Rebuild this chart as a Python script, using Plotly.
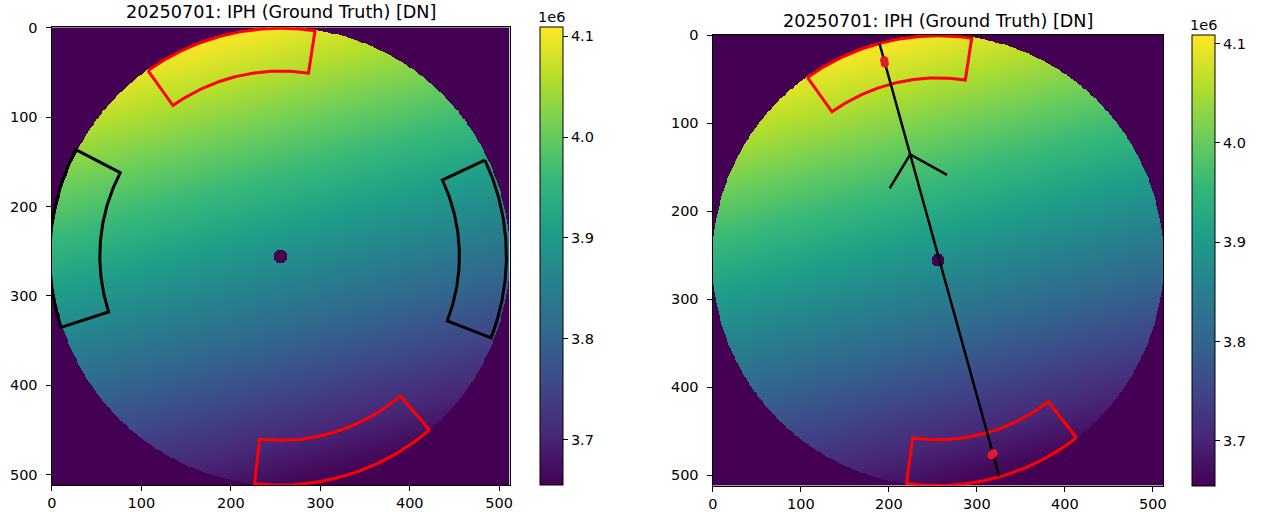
import numpy as np
import plotly.graph_objects as go

# ---------------- data ----------------
IMG_SIZE = 512
DISK_CENTER = (255.5, 255.5)
DISK_RADIUS = 256.0
HOLE_RADIUS = 7.5
VALUE_MAX = 4.109e6          # brightest rim value (top, slightly left)
VALUE_MIN = 3.655e6          # darkest rim value / masked value
PROFILE_START = (189.3, 9.4)   # profile line, high end
PROFILE_END = (325.3, 500.8)   # profile line, low end
ARROW_TIP = (224.2, 135.3)
ARROW_LEFT = (200.9, 173.8)
ARROW_RIGHT = (266.0, 158.7)
DOTS_X = [194.6, 195.4, 316.5, 319.0]
DOTS_Y = [28.5, 32.0, 477.0, 475.0]

CB_TICKS = [3.7e6, 3.8e6, 3.9e6, 4.0e6, 4.1e6]
CB_TICKTEXT = ["3.7", "3.8", "3.9", "4.0", "4.1"]
AX_TICKS = [0, 100, 200, 300, 400, 500]
TITLE = "20250701: IPH (Ground Truth) [DN]"

# sectors: (inner radius, outer radius, start angle deg, end angle deg), image coords
LEFT_RED = [(207, 255, -125.5, -81.3), (206, 256, 49.4, 96.5)]
LEFT_BLACK = [(202, 258, 162.0, 207.5), (200, 252.5, -25.2, 21.2)]
RIGHT_RED = [(207, 255, -125.5, -81.3), (204, 256, 52.0, 98.0)]

# ---------------- image field ----------------
yy, xx = np.mgrid[0:IMG_SIZE, 0:IMG_SIZE].astype(np.float64)
dx = xx - DISK_CENTER[0]
dy = yy - DISK_CENTER[1]
rr = np.hypot(dx, dy)
u = np.array(PROFILE_END) - np.array(PROFILE_START)
u = u / np.linalg.norm(u)
proj = (dx * u[0] + dy * u[1]) / DISK_RADIUS
mid = (VALUE_MAX + VALUE_MIN) / 2
half = (VALUE_MAX - VALUE_MIN) / 2
field = mid - half * proj
field[rr > DISK_RADIUS] = VALUE_MIN
field[rr <= HOLE_RADIUS] = VALUE_MIN
field = np.clip(field, VALUE_MIN, VALUE_MAX).astype(np.float32)


def sector_path(rin, rout, a0, a1, n=80):
    t = np.radians(np.linspace(a0, a1, n))
    xo = DISK_CENTER[0] + rout * np.cos(t)
    yo = DISK_CENTER[1] + rout * np.sin(t)
    xi = DISK_CENTER[0] + rin * np.cos(t[::-1])
    yi = DISK_CENTER[1] + rin * np.sin(t[::-1])
    xs = np.concatenate([xo, xi, xo[:1]])
    ys = np.concatenate([yo, yi, yo[:1]])
    return xs, ys


W, H = 1278, 512
# pixel boxes of the two plots
L_BOX = (51.5, 509.5, 27.3, 485.0)
R_BOX = (712.5, 1163.0, 34.8, 485.5)
L_CB = (540.0, 22.7)
R_CB = (1192.3, 22.7)


def dom_x(b):
    return [b[0] / W, b[1] / W]


def dom_y(b):
    return [1 - b[3] / H, 1 - b[2] / H]


TICK_FONT = dict(family="DejaVu Sans", size=14.5, color="black")

fig = go.Figure()

for i, (box, cb) in enumerate([(L_BOX, L_CB), (R_BOX, R_CB)]):
    xa = "x" if i == 0 else "x2"
    ya = "y" if i == 0 else "y2"
    fig.add_trace(go.Heatmap(
        z=field, x0=0, dx=1, y0=0, dy=1,
        colorscale="Viridis", zmin=VALUE_MIN, zmax=VALUE_MAX,
        xaxis=xa, yaxis=ya, hoverinfo="skip",
        colorbar=dict(
            x=cb[0] / W, xanchor="left", xpad=0, ypad=0,
            y=1 - (box[2] + box[3]) / 2 / H, yanchor="middle",
            thickness=cb[1], thicknessmode="pixels",
            len=box[3] - box[2], lenmode="pixels",
            outlinewidth=1, outlinecolor="black",
            ticks="outside", ticklen=5, tickwidth=1, tickcolor="black",
            tickvals=CB_TICKS, ticktext=CB_TICKTEXT,
            tickfont=TICK_FONT,
        ),
    ))

# left panel outlines
for s in LEFT_RED:
    xs, ys = sector_path(*s)
    fig.add_trace(go.Scatter(x=xs, y=ys, mode="lines", line=dict(color="red", width=3),
                             xaxis="x", yaxis="y", hoverinfo="skip", showlegend=False))
for s in LEFT_BLACK:
    xs, ys = sector_path(*s)
    fig.add_trace(go.Scatter(x=xs, y=ys, mode="lines", line=dict(color="black", width=3),
                             xaxis="x", yaxis="y", hoverinfo="skip", showlegend=False))

# right panel
for s in RIGHT_RED:
    xs, ys = sector_path(*s)
    fig.add_trace(go.Scatter(x=xs, y=ys, mode="lines", line=dict(color="red", width=3),
                             xaxis="x2", yaxis="y2", hoverinfo="skip", showlegend=False))
fig.add_trace(go.Scatter(x=[PROFILE_START[0], PROFILE_END[0]], y=[PROFILE_START[1], PROFILE_END[1]],
                         mode="lines", line=dict(color="black", width=2.5),
                         xaxis="x2", yaxis="y2", hoverinfo="skip", showlegend=False))
fig.add_trace(go.Scatter(x=[ARROW_LEFT[0], ARROW_TIP[0], ARROW_RIGHT[0]],
                         y=[ARROW_LEFT[1], ARROW_TIP[1], ARROW_RIGHT[1]],
                         mode="lines", line=dict(color="black", width=2.5),
                         xaxis="x2", yaxis="y2", hoverinfo="skip", showlegend=False))
fig.add_trace(go.Scatter(x=DOTS_X, y=DOTS_Y, mode="markers",
                         marker=dict(color="#e41a2c", size=8, line=dict(width=0)),
                         xaxis="x2", yaxis="y2", hoverinfo="skip", showlegend=False))

axis_common = dict(
    range=[-0.5, IMG_SIZE - 0.5], tickvals=AX_TICKS, ticks="outside", ticklen=5,
    tickwidth=1, tickcolor="black", showline=True, linecolor="black", linewidth=1,
    mirror=True, showgrid=False, zeroline=False, automargin=False,
    tickfont=TICK_FONT,
)
xaxis_common = dict(axis_common, ticklabelstandoff=0)
yaxis_common = dict(axis_common, range=[IMG_SIZE - 0.5, -0.5], ticklabelstandoff=5)

fig.update_layout(
    width=W, height=H, margin=dict(l=0, r=0, t=0, b=0, pad=0, autoexpand=False),
    paper_bgcolor="white", plot_bgcolor="white", showlegend=False,
    xaxis=dict(xaxis_common, domain=dom_x(L_BOX), anchor="y"),
    yaxis=dict(yaxis_common, domain=dom_y(L_BOX), anchor="x"),
    xaxis2=dict(xaxis_common, domain=dom_x(R_BOX), anchor="y2"),
    yaxis2=dict(yaxis_common, domain=dom_y(R_BOX), anchor="x2"),
    font=dict(family="DejaVu Sans", color="black"),
    annotations=[
        dict(text=TITLE, x=(L_BOX[0] + L_BOX[1]) / 2 / W, y=1 - 12 / H, xref="paper", yref="paper",
             showarrow=False, font=dict(size=17.6, family="DejaVu Sans", color="black"),
             xanchor="center", yanchor="middle"),
        dict(text=TITLE, x=(R_BOX[0] + R_BOX[1]) / 2 / W, y=1 - 20.5 / H, xref="paper", yref="paper",
             showarrow=False, font=dict(size=17.6, family="DejaVu Sans", color="black"),
             xanchor="center", yanchor="middle"),
        dict(text="1e6", x=(L_CB[0] + L_CB[1] / 2) / W, y=1 - 17 / H, xref="paper", yref="paper",
             showarrow=False, font=TICK_FONT, xanchor="center", yanchor="middle"),
        dict(text="1e6", x=(R_CB[0] + R_CB[1] / 2) / W, y=1 - 25 / H, xref="paper", yref="paper",
             showarrow=False, font=TICK_FONT, xanchor="center", yanchor="middle"),
    ],
)

fig.write_html("out.html")
